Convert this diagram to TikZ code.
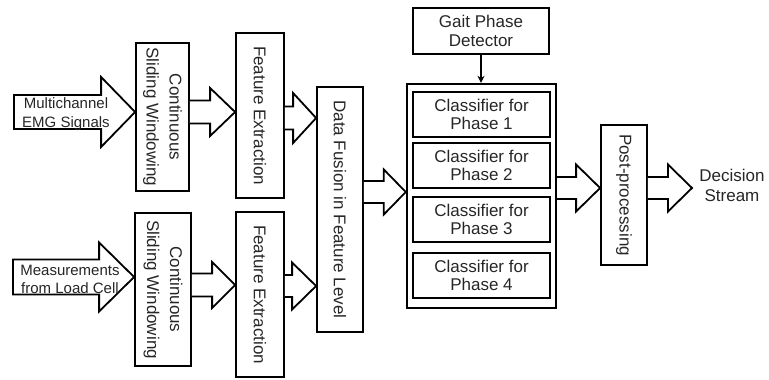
\documentclass[tikz,border=0pt]{standalone}
\usepackage{fontspec}
\setmainfont{Liberation Sans}
\usetikzlibrary{calc,arrows.meta}
\definecolor{txt}{HTML}{262626}
\tikzset{
  box/.style={draw, line width=1.8pt, inner sep=0pt},
  cbox/.style={draw, line width=2pt, inner sep=0pt, minimum width=137pt, minimum height=45pt,
     align=center, text=txt, font=\fontsize{17}{18}\selectfont},
  vtext/.style={rotate=-90, align=center, text=txt, inner sep=0pt},
  barr/.style={draw, line width=1.8pt, line join=miter, fill=white},
}
\newcommand\barrow[5]{%
  \draw[barr] ($(#1)+(0,-#3)$) -- ($(#2)+(-#5,-#3)$) -- ($(#2)+(-#5,-#4)$) -- (#2)
     -- ($(#2)+(-#5,#4)$) -- ($(#2)+(-#5,#3)$) -- ($(#1)+(0,#3)$);}
\newcommand\inarrow[5]{%
  \draw[barr] ($(#1)+(0,-#3)$) -- ($(#2)+(-#5,-#3)$) -- ($(#2)+(-#5,-#4)$) -- (#2)
     -- ($(#2)+(-#5,#4)$) -- ($(#2)+(-#5,#3)$) -- ($(#1)+(0,#3)$) -- cycle;}
\begin{document}
\begin{tikzpicture}[x=1pt,y=-1pt]
\useasboundingbox (0,0) rectangle (769,380);
% boxes
\node[box, minimum width=53pt, minimum height=148pt] (win1) at (162.5,117) {};
\node[box, minimum width=56pt, minimum height=153pt] (win2) at (163,289.5) {};
\node[box, minimum width=48pt, minimum height=165pt] (fe1) at (260,115.5) {};
\node[box, minimum width=48pt, minimum height=165pt] (fe2) at (260,294.5) {};
\node[box, minimum width=46pt, minimum height=245pt] (df) at (340,209.5) {};
\node[box, minimum width=136pt, minimum height=46pt, align=center, text=txt,
      font=\fontsize{17}{19}\selectfont] (gait) at (481,31) {Gait Phase\\Detector};
\node[draw, line width=2.4pt, inner sep=0pt, minimum width=149pt, minimum height=224pt] (outer) at (481.5,196) {};
\node[cbox] (c1) at (481.5,114.5) {Classifier for\\Phase 1};
\node[cbox] (c2) at (481.5,165.5) {Classifier for\\Phase 2};
\node[cbox] (c3) at (481.5,219.5) {Classifier for\\Phase 3};
\node[cbox] (c4) at (481.5,275) {Classifier for\\Phase 4};
\node[box, minimum width=46pt, minimum height=140pt] (post) at (624,195) {};
% rotated texts
\node[vtext, font=\fontsize{17}{23}\selectfont] (w1t) at (win1) {Continuous\\Sliding Windowing};
\node[vtext, font=\fontsize{17}{23}\selectfont] (w2t) at (win2) {Continuous\\Sliding Windowing};
\node[vtext, font=\fontsize{17}{20}\selectfont] (f1t) at (fe1) {Feature Extraction};
\node[vtext, font=\fontsize{17}{20}\selectfont] (f2t) at (fe2) {Feature Extraction};
\node[vtext, font=\fontsize{17}{20}\selectfont] (dft) at (df) {Data Fusion in Feature Level};
\node[vtext, font=\fontsize{17}{20}\selectfont] (pt) at (post) {Post-processing};
% levels
\coordinate (y1) at (0,112);
\coordinate (y2) at (0,277);
\coordinate (y3) at (0,112);
\coordinate (y4) at (0,285);
\coordinate (y5) at (0,118);
\coordinate (y6) at (0,286);
\coordinate (y7) at (0,192);
\coordinate (y8) at (0,188);
\coordinate (in1s) at (14,112);
\coordinate (in2s) at (13,277);
\coordinate (in1e) at (win1.west |- y1);
\coordinate (in2e) at (win2.west |- y2);
\coordinate (a1s) at (win1.east |- y3);
\coordinate (a1e) at (fe1.west |- y3);
\coordinate (a2s) at (win2.east |- y4);
\coordinate (a2e) at (fe2.west |- y4);
\coordinate (a3s) at (fe1.east |- y5);
\coordinate (a3e) at (df.west |- y5);
\coordinate (a4s) at (fe2.east |- y6);
\coordinate (a4e) at (df.west |- y6);
\coordinate (a5s) at (df.east |- y7);
\coordinate (a5e) at (outer.west |- y7);
\coordinate (a6s) at (outer.east |- y8);
\coordinate (a6e) at (post.west |- y8);
\coordinate (a7s) at (post.east |- y8);
\coordinate (a7e) at (692,188);
% input arrows
\inarrow{in1s}{in1e}{17}{35}{34}
\inarrow{in2s}{in2e}{17.5}{34.5}{35}
\node[align=center, text=txt, font=\fontsize{15}{19}\selectfont, inner sep=0pt] (l1) at (66,114) {Multichannel\\EMG Signals};
\node[align=center, text=txt, font=\fontsize{15}{18}\selectfont, inner sep=0pt] (l2) at (70,279) {Measurements\\from Load Cell};
% block arrows
\barrow{a1s}{a1e}{11.5}{24}{25}
\barrow{a2s}{a2e}{11.5}{23}{23}
\barrow{a3s}{a3e}{11.5}{25}{23}
\barrow{a4s}{a4e}{11}{23.5}{24}
\barrow{a5s}{a5e}{11}{22.5}{22}
\barrow{a6s}{a6e}{11}{23.5}{24}
\barrow{a7s}{a7e}{11}{23.5}{24}
\node[align=center, text=txt, font=\fontsize{17}{20}\selectfont, inner sep=0pt] (out) at (732,185) {Decision\\Stream};
% gait arrow
\draw[-{Stealth[length=7pt,width=7pt]}, line width=1.4pt] (gait.south) -- (gait.south |- outer.north);
\end{tikzpicture}
\end{document}
